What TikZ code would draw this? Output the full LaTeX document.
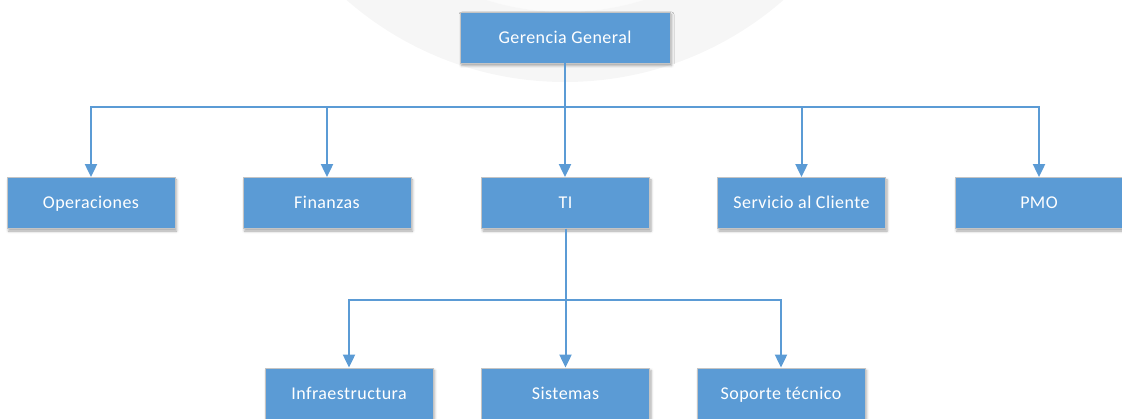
\documentclass[tikz,border=0pt]{standalone}
\usepackage{fontspec}
\setmainfont[LetterSpace=2.5]{Carlito}
\usetikzlibrary{arrows.meta,shadows.blur}
\definecolor{boxblue}{HTML}{5B9BD5}
\definecolor{boxedge}{HTML}{C4C4C4}
\begin{document}
\begin{tikzpicture}[x=1pt,y=-1pt,
  unit/.style={draw=boxedge, line width=0.8pt, fill=boxblue, text=white,
    minimum width=168pt, minimum height=51pt, inner sep=0pt,
    text height=11.5pt, text depth=0pt,
    font=\fontsize{18}{21}\selectfont,
    blur shadow={shadow xshift=1.5pt, shadow yshift=-2.5pt, shadow blur radius=2.5pt, shadow opacity=35}},
  link/.style={draw=boxblue, line width=2pt, -{Triangle[length=13pt,width=12pt]}}]
\useasboundingbox (0,0) rectangle (1122,419);
% faint seal in the background
\begin{scope}
  \clip (0,0) rectangle (1122,419);
  \fill[gray!3] (565,-250) circle (262pt);
  \fill[gray!7, even odd rule] (565,-250) circle (332pt) (565,-250) circle (262pt);
\end{scope}
% units
\node[unit, minimum width=210pt] (gg) at (565,37.5) {Gerencia General};
\node[unit] (op) at (91,203) {Operaciones};
\node[unit] (fin) at (327,203) {Finanzas};
\node[unit] (ti) at (565.5,203) {TI};
\node[unit] (sc) at (801.5,203) {Servicio al Cliente};
\node[unit] (pmo) at (1039,203) {PMO};
\node[unit] (inf) at (349,393.5) {Infraestructura};
\node[unit] (sis) at (565.5,393.5) {Sistemas};
\node[unit] (sop) at (781,393.5) {Soporte técnico};
% reporting lines
\draw[link] (gg.south) -- ++(0,44) -| (op.north);
\draw[link] (gg.south) -- ++(0,44) -| (fin.north);
\draw[link] (gg.south) -- (gg.south |- ti.north);
\draw[link] (gg.south) -- ++(0,44) -| (sc.north);
\draw[link] (gg.south) -- ++(0,44) -| (pmo.north);
\draw[link] (ti.south) -- ++(0,71) -| (inf.north);
\draw[link] (ti.south) -- (sis.north);
\draw[link] (ti.south) -- ++(0,71) -| (sop.north);
\end{tikzpicture}
\end{document}
